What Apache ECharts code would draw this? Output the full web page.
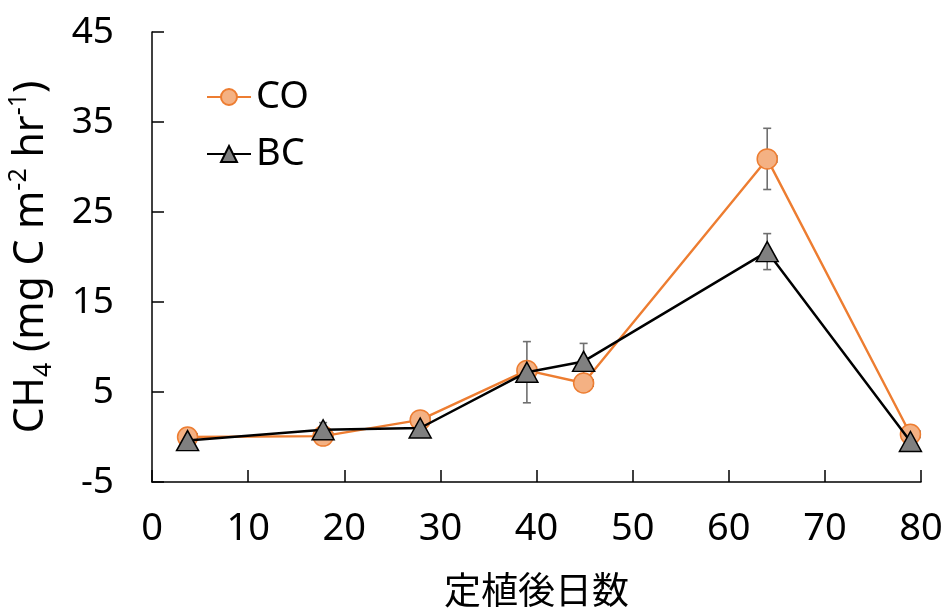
<!DOCTYPE html>
<html><head><meta charset="utf-8">
<script src="https://cdn.jsdelivr.net/npm/echarts@6/dist/echarts.min.js"></script>
<style>html,body{margin:0;padding:0;background:#fff}#c{width:952px;height:610px}</style>
</head><body><div id="c"></div>
<script>
// Days after transplanting
const days = [3.7, 17.8, 27.9, 39.0, 44.9, 64.0, 78.9];
// CH4 flux, CO
const coValues = [0.0, 0.1, 1.9, 7.4, 6.0, 30.9, 0.3];
const coErrors = [0.3, 0.3, 0.4, 0.5, 0.4, 3.4, 0.3];
const coXErrors = [1, 1, 1, 1, 1, 1, 1];
// CH4 flux, BC
const bcValues = [-0.4, 0.8, 1.0, 7.2, 8.4, 20.6, -0.5];
const bcErrors = [0.3, 0.8, 0.3, 3.4, 2.0, 2.0, 0.3];
const bcXErrors = [0, 0, 0, 0, 0, 0, 0];
const seriesNames = ['CO', 'BC'];
const xTickLabels = [0, 10, 20, 30, 40, 50, 60, 70, 80];
const yTickLabels = [-5, 5, 15, 25, 35, 45];

const FONT = '"Noto Sans", "Noto Sans CJK JP", sans-serif';
const CJK = '"Noto Sans CJK JP", "Noto Sans", sans-serif';
const ERR_COLOR = '#6f6f6f';

function errRender(params, api) {
  const x = api.value(0), y = api.value(1), e = api.value(2), xe = api.value(3);
  const c = api.coord([x, y]);
  const hi = api.coord([x, y + e]);
  const lo = api.coord([x, y - e]);
  const cw = 4;
  const st = { stroke: ERR_COLOR, lineWidth: 1.6 };
  const children = [
    { type: 'line', shape: { x1: hi[0], y1: hi[1], x2: lo[0], y2: lo[1] }, style: st },
    { type: 'line', shape: { x1: hi[0] - cw, y1: hi[1], x2: hi[0] + cw, y2: hi[1] }, style: st },
    { type: 'line', shape: { x1: lo[0] - cw, y1: lo[1], x2: lo[0] + cw, y2: lo[1] }, style: st }
  ];
  if (xe) {
    const r = api.coord([x + xe, y]);
    children.push({ type: 'line', shape: { x1: c[0], y1: c[1], x2: r[0], y2: r[1] }, style: st });
    children.push({ type: 'line', shape: { x1: r[0], y1: r[1] - cw, x2: r[0], y2: r[1] + cw }, style: st });
  }
  return { type: 'group', children };
}

const chart = echarts.init(document.getElementById('c'), null, { renderer: 'canvas' });
chart.setOption({
  backgroundColor: '#fff',
  animation: false,
  textStyle: { fontFamily: FONT },
  grid: { left: 152, right: 31, top: 32, bottom: 128, containLabel: false, outerBoundsMode: 'none' },
  legend: {
    data: seriesNames,
    orient: 'vertical',
    left: 206,
    top: 78,
    padding: 0,
    itemWidth: 44,
    itemHeight: 20,
    itemGap: 19,
    textStyle: { fontSize: 38, color: '#000', fontFamily: FONT }
  },
  xAxis: {
    type: 'value',
    min: xTickLabels[0],
    max: xTickLabels[xTickLabels.length - 1],
    interval: 10,
    name: '定植後日数',
    nameLocation: 'middle',
    nameGap: 89,
    nameTextStyle: { fontSize: 37, color: '#000', fontFamily: CJK, verticalAlign: 'top' },
    axisLine: { show: true, onZero: false, lineStyle: { color: '#000', width: 1.5 } },
    axisTick: { show: true, inside: true, length: 12, lineStyle: { color: '#000', width: 1.5 } },
    axisLabel: { fontSize: 38, color: '#000', margin: 28, fontFamily: FONT },
    splitLine: { show: false }
  },
  yAxis: {
    type: 'value',
    min: yTickLabels[0],
    max: yTickLabels[yTickLabels.length - 1],
    interval: 10,
    name: '{m|CH}{sub|4}{m| (mg C m}{sup|-2}{m| hr}{sup|-1}{m|)}',
    nameLocation: 'middle',
    nameRotate: 90,
    nameGap: 96,
    nameTextStyle: {
      fontFamily: FONT, color: '#000', fontSize: 41,
      rich: {
        m: { fontSize: 41, lineHeight: 50, color: '#000', fontFamily: FONT },
        sub: { fontSize: 25, lineHeight: 50, color: '#000', fontFamily: FONT, verticalAlign: 'bottom', padding: [18, 0, 0, 0] },
        sup: { fontSize: 25, lineHeight: 50, color: '#000', fontFamily: FONT, verticalAlign: 'top', padding: [0, 0, 16, 0] }
      }
    },
    axisLine: { show: true, onZero: false, lineStyle: { color: '#000', width: 1.5 } },
    axisTick: { show: true, inside: true, length: 12, lineStyle: { color: '#000', width: 1.5 } },
    axisLabel: { fontSize: 37, color: '#000', margin: 38, fontFamily: FONT },
    splitLine: { show: false }
  },
  series: [
    {
      type: 'custom', name: 'CO-err', renderItem: errRender, z: 1, silent: true,
      encode: { x: 0, y: 1 },
      data: days.map((d, i) => [d, coValues[i], coErrors[i], coXErrors[i]])
    },
    {
      type: 'custom', name: 'BC-err', renderItem: errRender, z: 1, silent: true,
      encode: { x: 0, y: 1 },
      data: days.map((d, i) => [d, bcValues[i], bcErrors[i], bcXErrors[i]])
    },
    {
      name: 'CO', type: 'line', z: 3,
      data: days.map((d, i) => [d, coValues[i]]),
      symbol: 'circle', symbolSize: 20,
      lineStyle: { color: '#ED7D31', width: 2.4 },
      itemStyle: { color: '#F4B183', borderColor: '#ED7D31', borderWidth: 1.5 }
    },
    {
      name: 'BC', type: 'line', z: 4,
      data: days.map((d, i) => [d, bcValues[i]]),
      symbol: 'triangle', symbolSize: [22, 20],
      lineStyle: { color: '#000', width: 2.5 },
      itemStyle: { color: '#808080', borderColor: '#000', borderWidth: 1.5 }
    }
  ]
});
</script></body></html>
